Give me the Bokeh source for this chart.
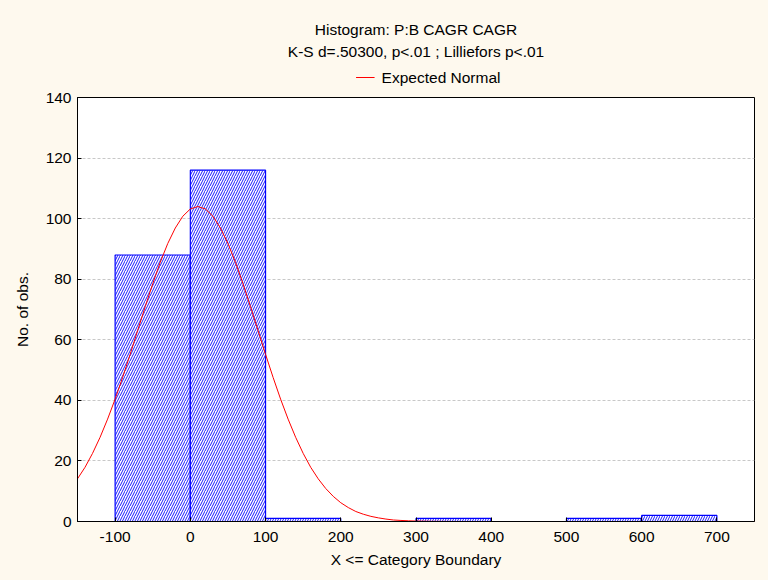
from bokeh.plotting import figure
from bokeh.layouts import column
from bokeh.models import Range1d, FixedTicker
from bokeh.core.properties import value
from bokeh.embed import file_html
from bokeh.resources import INLINE

# Histogram bins (upper boundaries in steps of 100) and counts
bin_left = [-100, 0, 100, 200, 300, 400, 500, 600]
bin_right = [0, 100, 200, 300, 400, 500, 600, 700]
counts = [88, 116, 1, 0, 1, 0, 1, 2]

# Expected normal curve, sampled along x
curve_x = [-150, -140, -130, -120, -110, -100, -90, -80, -70, -60, -50, -40,
           -30, -20, -10, 0, 10, 20, 30, 40, 50, 60, 70, 80, 90, 100, 110,
           120, 130, 140, 150, 160, 170, 180, 190, 200, 210, 220, 230, 240,
           250, 260, 270, 280, 290, 300, 320, 350, 400, 750]
curve_y = [14.1, 17.9, 22.5, 27.8, 33.8, 40.4, 47.6, 55.2, 63.1, 70.9, 78.5,
           85.6, 91.8, 96.9, 100.8, 103.2, 104.0, 103.2, 100.8, 96.9, 91.8,
           85.6, 78.5, 70.9, 63.1, 55.2, 47.6, 40.4, 33.8, 27.8, 22.5, 17.9,
           14.1, 10.9, 8.3, 6.2, 4.6, 3.3, 2.4, 1.7, 1.2, 0.8, 0.5, 0.35,
           0.23, 0.15, 0.06, 0.01, 0.0, 0.0]

x_ticks = [-100, 0, 100, 200, 300, 400, 500, 600, 700]
y_ticks = [0, 20, 40, 60, 80, 100, 120, 140]

title_lines = ["Histogram: P:B CAGR CAGR",
               "K-S d=.50300, p<.01 ; Lilliefors p<.01"]
legend_label = "Expected Normal"

FONT = "Liberation Sans"
FSIZE = "15.5px"
BG = "#FEF9EE"
CURVE_COLOR = "#FF0000"
BAR_COLOR = "#0000FF"

# ---- header strip: two title lines and the legend entry ----
W, HEAD_H = 768, 86
head = figure(width=W, height=HEAD_H, output_backend="svg",
              toolbar_location=None, x_range=Range1d(0, W),
              y_range=Range1d(HEAD_H, 0), min_border=0)
head.axis.visible = False
head.grid.visible = False
head.outline_line_color = None
head.background_fill_color = BG
head.border_fill_color = BG

head.text(x=[W / 2, W / 2], y=[29, 51], text=title_lines,
          text_align="center", text_baseline="middle",
          text_font=value(FONT), text_font_size=FSIZE, text_color="black")
head.segment(x0=[316], y0=[77], x1=[337], y1=[77],
             line_color=CURVE_COLOR, line_width=1.2)
head.text(x=[345], y=[77], text=[legend_label],
          text_align="left", text_baseline="middle",
          text_font=value(FONT), text_font_size=FSIZE, text_color="black")

# ---- main histogram ----
p = figure(width=W, height=580 - HEAD_H, output_backend="svg",
           toolbar_location=None,
           x_range=Range1d(-150, 750), y_range=Range1d(0, 140),
           min_border_left=77, min_border_right=14, min_border_bottom=59,
           min_border_top=97 - HEAD_H)
p.border_fill_color = BG
p.background_fill_color = "white"
p.outline_line_color = "black"
p.outline_line_width = 1

p.quad(left=bin_left, right=bin_right, top=counts, bottom=0,
       fill_color="white", line_color=BAR_COLOR, line_width=1.2,
       hatch_pattern="/", hatch_color=BAR_COLOR, hatch_scale=5,
       hatch_weight=0.9)

p.line(curve_x, curve_y, line_color=CURVE_COLOR, line_width=1)

for ax in (p.xaxis[0], p.yaxis[0]):
    ax.major_tick_out = 0
    ax.major_tick_in = 4
    ax.minor_tick_out = 0
    ax.minor_tick_in = 0
    ax.axis_line_color = "black"
    ax.major_tick_line_color = "black"
    ax.major_label_text_font = FONT
    ax.major_label_text_font_size = FSIZE
    ax.major_label_text_color = "black"
    ax.axis_label_text_font = FONT
    ax.axis_label_text_font_size = FSIZE
    ax.axis_label_text_font_style = "normal"
    ax.axis_label_text_color = "black"

p.xaxis.ticker = FixedTicker(ticks=x_ticks)
p.xaxis.major_label_overrides = {t: str(t) for t in x_ticks}
p.yaxis.ticker = FixedTicker(ticks=y_ticks)
p.xaxis.axis_label = "X <= Category Boundary"
p.yaxis.axis_label = "No. of obs."
p.xaxis.major_label_standoff = 10
p.yaxis.major_label_standoff = 6
p.xaxis.axis_label_standoff = 6
p.yaxis.axis_label_standoff = 12

p.xgrid.visible = False
p.ygrid.ticker = FixedTicker(ticks=y_ticks)
p.ygrid.grid_line_color = "#C8C8C8"
p.ygrid.grid_line_dash = "3 2"

layout = column(head, p, spacing=0)
layout.styles = {"background-color": BG}

open("out.html", "w").write(file_html(layout, INLINE))
